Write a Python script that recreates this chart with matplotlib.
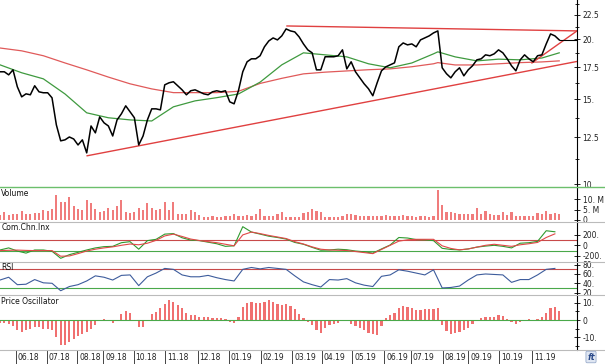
import matplotlib
matplotlib.use("Agg")
import matplotlib.pyplot as plt
import matplotlib.transforms as mtransforms
from matplotlib.lines import Line2D
from matplotlib.ticker import FixedLocator, FixedFormatter, NullFormatter

# --- data (one sample every 3 trading days, mid-May 2018 .. late Nov 2019) ---
close = [17.13, 17.13, 16.88, 17.29, 15.94, 15.19, 15.41, 15.34, 16.02, 15.56,
         15.49, 15.49, 15.12, 13.28, 12.30, 12.36, 12.53, 12.41, 12.06, 12.36,
         11.61, 13.21, 12.78, 13.80, 13.41, 13.21, 12.59, 13.60, 14.00, 14.55,
         14.14, 13.74, 12.06, 12.59, 13.60, 14.34, 14.34, 14.27, 16.09, 16.25,
         16.33, 16.02, 15.71, 15.34, 15.64, 15.71, 15.56, 15.41, 15.34, 15.56,
         15.64, 15.56, 15.64, 14.83, 14.69, 15.64, 17.13, 17.97, 18.23, 18.23,
         18.50, 19.31, 19.86, 20.15, 19.96, 20.35, 21.04, 20.84, 20.74, 20.25,
         19.58, 19.03, 18.76, 17.29, 17.29, 18.41, 18.41, 18.41, 18.50, 19.03,
         17.37, 17.97, 17.13, 16.64, 16.17, 15.79, 15.27, 16.25, 17.21, 17.54,
         17.71, 17.88, 19.31, 19.67, 19.49, 19.58, 19.31, 19.96, 20.15, 20.35,
         20.64, 20.84, 17.46, 16.97, 16.64, 17.13, 17.46, 16.80, 17.29, 17.63,
         18.14, 18.23, 18.58, 18.50, 18.67, 19.03, 18.76, 18.23, 17.63, 17.21,
         18.14, 18.58, 18.23, 17.97, 18.50, 18.58, 19.58, 20.54, 20.35, 19.96]

ma_idx = [0, 5, 10, 15, 20, 25, 30, 35, 40, 45, 50, 55, 60, 65, 70, 75, 80, 85,
          90, 95, 100, 101, 105, 110, 115, 120, 125, 129]
ma_fast = [17.71, 17.05, 16.56, 15.40, 14.07, 13.74, 13.60, 13.53, 14.48, 14.90,
           15.13, 15.40, 16.30, 17.71, 18.76, 18.58, 18.40, 17.80, 17.46, 17.87,
           18.67, 18.85, 18.40, 18.05, 18.20, 18.14, 18.30, 18.76]
ma_slow = [19.20, 18.94, 18.50, 17.87, 17.29, 16.70, 16.17, 15.78, 15.50, 15.50,
           15.50, 15.60, 16.20, 16.60, 16.96, 17.10, 17.20, 17.30, 17.37, 17.55,
           17.80, 17.90, 17.70, 17.70, 17.80, 17.90, 17.96, 18.05]

support_x, support_y = [20.1, 133.1], [11.45, 18.0]
resist_x, resist_y = [66.2, 133.1], [21.34, 20.84]
short_x, short_y = [122.7, 133.1], [17.87, 20.84]

volume_m = [2.5, 4.0, 2.5, 2.8, 3.0, 4.5, 2.8, 3.0, 3.5, 3.5,
            5.0, 4.5, 5.5, 12.0, 8.5, 8.5, 11.0, 7.0, 5.5, 5.0,
            9.5, 8.0, 5.5, 4.0, 4.5, 6.0, 5.0, 7.0, 9.5, 4.0,
            3.5, 4.0, 6.0, 5.0, 8.0, 6.0, 5.0, 5.5, 8.7, 5.0,
            8.7, 3.0, 3.0, 3.0, 5.0, 4.0, 2.5, 1.5, 1.5, 2.0,
            1.5, 1.5, 2.0, 2.0, 3.0, 2.0, 2.0, 2.5, 2.0, 3.0,
            5.5, 2.0, 2.0, 2.0, 3.0, 4.0, 1.5, 1.5, 1.5, 1.5,
            3.5, 4.0, 5.5, 4.5, 4.0, 1.5, 1.5, 1.5, 1.5, 2.0,
            3.0, 3.0, 2.5, 2.0, 2.0, 2.0, 2.0, 2.0, 2.0, 2.5,
            2.0, 2.0, 2.0, 2.5, 2.0, 2.0, 1.5, 2.0, 2.0, 1.5,
            2.0, 14.5, 7.5, 4.0, 4.0, 3.5, 3.0, 3.0, 3.0, 3.0,
            6.0, 3.0, 4.5, 3.0, 2.5, 2.5, 4.0, 2.5, 4.0, 2.0,
            2.0, 2.0, 2.0, 2.0, 3.5, 3.0, 4.5, 3.0, 3.5, 3.0]

# CCI and RSI: one value every 6 trading days
cci_fast = [-90, -50, -110, -150, -90, -90, -115, -250, -180, -135,
            -90, -50, -26, -20, 50, 70, -75, 90, 115, 215,
            225, 145, 100, 90, 60, 30, -20, -10, 358, 255,
            215, 175, 150, 120, 55, 20, -40, -95, -90, -75,
            -85, -110, -125, -150, -70, 6, 150, 140, 110, 105,
            90, -58, -80, -88, -70, -35, -15, 0, -20, -50,
            40, 50, 75, 280, 260]
cci_slow = [-102, -96, -92, -98, -102, -102, -102, -210, -205, -160,
            -110, -75, -50, -30, 0, 25, 10, 40, 95, 180,
            215, 170, 120, 92, 70, 50, 20, -10, 200, 255,
            225, 190, 160, 130, 70, 25, -30, -75, -90, -95,
            -100, -120, -140, -160, -80, 0, 80, 105, 115, 115,
            115, -10, -60, -88, -70, -35, 0, 20, 0, -20,
            10, 30, 55, 150, 220]
rsi = [47, 53, 37, 38, 48, 41, 40, 24, 33, 37,
       45, 56, 53, 47, 57, 58, 35, 54, 62, 72,
       70, 58, 54, 54, 57, 52, 48, 45, 70, 74,
       71, 74, 72, 70, 56, 43, 37, 32, 48, 47,
       50, 41, 36, 33, 55, 58, 69, 66, 62, 58,
       69, 30, 31, 34, 47, 58, 60, 59, 58, 42,
       48, 48, 58, 70, 72]

price_osc = [-2, -2, -2.5, -3.5, -5.5, -7, -6, -5, -4, -4,
             -5, -5, -6, -10, -14.5, -14.4, -12.7, -11, -9.5, -8.2,
             -7, -5.2, -2.7, -0.3, 0.4, -0.5, -2, 0, 3.5, 5,
             3.8, 0, -4, -3.8, -0.8, 3.6, 4.6, 6.8, 9.2, 11.5,
             10.2, 8.4, 6.7, 4.2, 3, 2.9, 2, 1.8, 1.6, 1.4,
             1.2, 1, 0.6, -0.9, -1.8, 2, 7.4, 10, 10.5, 10.1,
             9.7, 10.5, 11.3, 10.6, 9.4, 8.8, 9.1, 8.2, 6.2, 3.7,
             1, -1, -3, -5.5, -7.5, -4.8, -3, -2.3, -1.8, -0.4,
             0, -2.1, -3.3, -4.8, -6, -7.3, -8, -8.7, -3.5, 1,
             2.8, 4.3, 6.8, 8, 7.6, 7, 6, 6, 6.2, 6.2,
             6.4, 6.7, -3, -6.5, -7.9, -7.6, -6.8, -5.8, -4.6, -2.2,
             -0.3, 1.1, 1.8, 1.9, 1.9, 2.7, 2.6, 0.8, -1.3, -2.5,
             -1, 0, 0.4, -0.4, 0.8, 1.6, 3.8, 6.8, 7.4, 5]

month_labels = ["06.18", "07.18", "08.18", "09.18", "10.18", "11.18", "12.18",
                "01.19", "02.19", "03.19", "04.19", "05.19", "06.19", "07.19",
                "08.19", "09.19", "10.19", "11.19"]
month_pos = [3.6, 10.8, 17.8, 23.8, 30.8, 38.1, 45.6, 52.8, 60.1, 67.4, 74.2,
             81.2, 88.6, 94.7, 102.1, 108.0, 115.1, 122.7]

x = list(range(len(close)))
x_half = list(range(0, 2 * len(rsi), 2))
XMAX = 133.1

plt.rcParams["font.family"] = ["DejaVu Sans"]
plt.rcParams["font.size"] = 5.5

W, H = 605, 364
fig = plt.figure(figsize=(W / 100, H / 100), dpi=100)


def panel(top, bottom):
    return fig.add_axes([0, 1 - bottom / H, 577 / W, (bottom - top) / H])


def style(ax, ylim, ticks, labels, minor=()):
    ax.set_xlim(0, XMAX)
    ax.set_ylim(*ylim)
    for s in ("top", "left", "bottom"):
        ax.spines[s].set_visible(False)
    ax.spines["right"].set_linewidth(0.8)
    ax.yaxis.tick_right()
    ax.yaxis.set_major_locator(FixedLocator(ticks))
    ax.yaxis.set_major_formatter(FixedFormatter(labels))
    ax.yaxis.set_minor_locator(FixedLocator(list(minor)))
    ax.yaxis.set_minor_formatter(NullFormatter())
    ax.tick_params(axis="y", which="major", direction="inout", length=5, width=0.7, pad=1.5,
                   labelsize=5.5, colors="#222222")
    ax.tick_params(axis="y", which="minor", direction="inout", length=3, width=0.6)
    ax.set_xticks([])


# price panel
ax_p = panel(0, 186)
ax_p.set_yscale("log")
ax_p.plot(ma_idx, ma_slow, color="#e05a5a", lw=0.9)
ax_p.plot(ma_idx, ma_fast, color="#3f9a3f", lw=0.9)
ax_p.plot(support_x, support_y, color="#e04040", lw=1.0)
ax_p.plot(resist_x, resist_y, color="#e04040", lw=1.0)
ax_p.plot(short_x, short_y, color="#e04040", lw=1.0)
ax_p.plot(x, close, color="black", lw=1.1)
ax_p.hlines(close[-1], x[-1], XMAX, color="black", lw=0.8)
style(ax_p, (9.905, 24.17), [10, 12.5, 15, 17.5, 20, 22.5],
      ["10.", "12.5", "15.", "17.5", "20.", "22.5"],
      [11.25, 13.75, 16.25, 18.75, 21.25, 23.75])

# volume panel
ax_v = panel(187, 222)
ax_v.bar(x, volume_m, width=0.5, color="#f07c7c")
style(ax_v, (-1, 16), [0, 5, 10], ["0", "5. M", "10. M"])

# commodity channel index
ax_c = panel(222, 262)
ax_c.axhline(100, color="#c84a4a", lw=0.8)
ax_c.axhline(-100, color="#4aa84a", lw=0.8)
ax_c.plot(x_half, cci_fast, color="#2f9a2f", lw=0.8)
ax_c.plot(x_half, cci_slow, color="#e04848", lw=0.8)
style(ax_c, (-321, 448), [-200, 0, 200], ["-200.", "0", "200."])

# RSI
ax_r = panel(262, 295)
ax_r.axhline(70, color="#c84a4a", lw=0.8)
ax_r.axhline(30, color="#4aa84a", lw=0.8)
ax_r.plot(x_half, rsi, color="#3d5c9c", lw=0.8)
style(ax_r, (14.8, 85.8), [20, 40, 60, 80], ["20.", "40.", "60.", "80."])

# price oscillator
ax_o = panel(295, 350)
ax_o.bar(x, price_osc, width=0.5, color="#f07070")
ax_o.axhline(0, color="#4aa84a", lw=0.8)
style(ax_o, (-17.3, 14.45), [-10, 0, 10], ["-10.", "0", "10."], [-15, -5, 5])
ax_o.set_xticks(month_pos)
ax_o.set_xticklabels([""] * len(month_pos))
ax_o.tick_params(axis="x", direction="out", length=11, width=0.7, color="#444444")
lab_tr = mtransforms.offset_copy(ax_o.get_xaxis_transform(), fig=fig, x=2, y=-8, units="dots")
for pos, lab in zip(month_pos, month_labels):
    ax_o.text(pos, 0, lab, transform=lab_tr, ha="left", va="center", fontsize=5.5, color="#222222")

# panel separators and titles
fig.add_artist(Line2D([0, 1], [1 - 187 / H] * 2, color="#6cbf6c", lw=1.0))
for yy in (222, 262, 295, 350):
    fig.add_artist(Line2D([0, 1], [1 - yy / H] * 2, color="#bbbbbb", lw=0.8))
for txt, yy in (("Volume", 193), ("Com.Chn.Inx", 228), ("RSI", 268), ("Price Oscillator", 302)):
    fig.text(0.002, 1 - yy / H, txt, fontsize=5.5, va="center", ha="left", color="#111111")

# small logo box in the corner
fig.text(591 / W, 1 - 357 / H, "ft", fontsize=6, style="italic", weight="bold",
         color="#2b4a8a", ha="center", va="center",
         bbox=dict(boxstyle="round,pad=0.15", fc="#dfe6f2", ec="#9aaccc", lw=0.6))

fig.savefig("out.png", dpi=100)
